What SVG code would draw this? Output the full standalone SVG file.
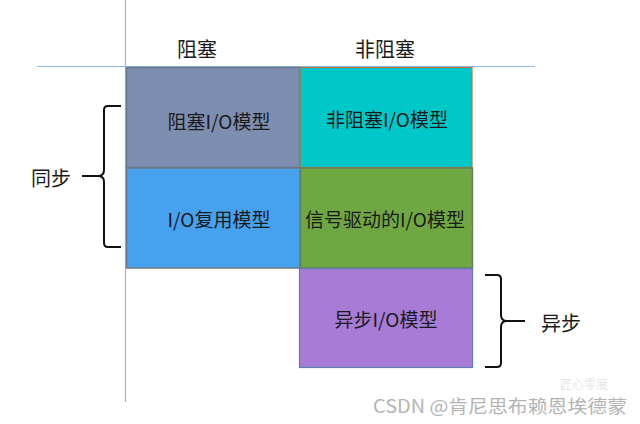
<svg xmlns="http://www.w3.org/2000/svg" width="640" height="424" viewBox="0 0 640 424">
<style>
.t{font-family:"Noto Sans CJK SC","Noto Sans",sans-serif;font-size:19px;fill:#1a1a1a;text-anchor:middle;dominant-baseline:central}
.h{font-family:"Noto Sans CJK SC","Noto Sans",sans-serif;font-size:20px;fill:#1a1a1a;text-anchor:middle;dominant-baseline:central}
.g{stroke:#8fb8e4;stroke-width:1.2;fill:none}
.b{fill:none;stroke:#111;stroke-width:2}
</style>
<rect width="640" height="424" fill="#fff"/>
<g id="grid">
<line class="g" x1="125.5" y1="0" x2="125.5" y2="402"/>
<line class="g" x1="37" y1="66.5" x2="535" y2="66.5"/>
</g>
<g id="header-blocking"><text class="h" x="197" y="48">阻塞</text></g>
<g id="header-nonblocking"><text class="h" x="385" y="48">非阻塞</text></g>
<g id="n1"><rect x="126.5" y="67.5" width="173" height="100" fill="#7e8eb0" stroke="#6a7890" stroke-width="1.5"/><text class="t" x="219" y="120">阻塞I/O模型</text></g>
<g id="n2"><rect x="300" y="67.5" width="172" height="100" fill="#00c8c9" stroke="#c0703a" stroke-width="1.2"/><text class="t" x="387" y="118">非阻塞I/O模型</text></g>
<g id="n3"><rect x="126.5" y="168" width="173.5" height="100" fill="#46a1ef" stroke="#707880" stroke-width="1.5"/><text class="t" x="219" y="218">I/O复用模型</text></g>
<g id="n4"><rect x="300.5" y="168" width="172" height="100" fill="#6fa843" stroke="#6a7f5a" stroke-width="1.5"/><text class="t" x="385" y="218">信号驱动的I/O模型</text></g>
<g id="n5"><rect x="299.5" y="268.5" width="173" height="99" fill="#a77bd6" stroke="#5a80b0" stroke-width="1.2"/><text class="t" x="386" y="318">异步I/O模型</text></g>
<g id="connectors">
<path class="b" d="M121,106 H108 Q104,106 104,110 V170 Q104,176 98,176 H82 M98,176 Q104,176 104,182 V243 Q104,247 108,247 H121"/>
<path class="b" d="M485,275 H497 Q501,275 501,279 V315 Q501,321 507,321 H525 M507,321 Q501,321 501,327 V363 Q501,367 497,367 H485"/>
</g>
<g id="label-sync"><text class="h" x="51" y="177">同步</text></g>
<g id="label-async"><text class="h" x="561" y="322">异步</text></g>
<g id="watermark">
<text x="584" y="383" font-family="Noto Sans CJK SC,sans-serif" font-size="12" fill="#d4d4d4" fill-opacity="0.6" text-anchor="middle" dominant-baseline="central">匠心零度</text>
<text x="373" y="405" font-family="Noto Sans CJK SC,sans-serif" font-size="18" fill="#b4b4b4" dominant-baseline="central" textLength="254" lengthAdjust="spacingAndGlyphs">CSDN @肯尼思布赖恩埃德蒙</text>
</g>
</svg>
